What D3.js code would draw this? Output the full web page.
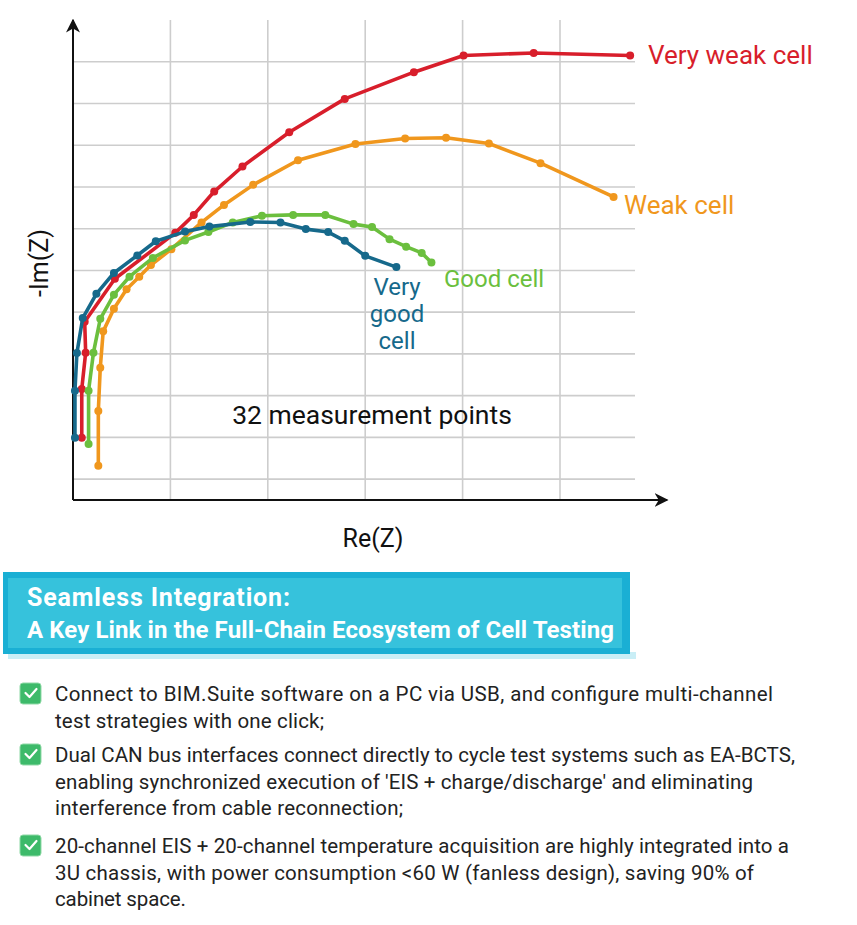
<!DOCTYPE html>
<html>
<head>
<meta charset="utf-8">
<script src="https://cdn.jsdelivr.net/npm/d3@7"></script>
<style>
  body { margin: 0; background: #fff; }
  svg { display: block; }
</style>
</head>
<body>
<script>
// Nyquist curves (Re(Z), -Im(Z) in grid units)
var veryWeakRe = [0.09, 0.09, 0.13, 0.12, 0.43, 1.05, 1.24, 1.45, 1.74, 2.22, 2.79, 3.50, 4.01, 4.73, 5.72];
var veryWeakIm = [1.49, 2.66, 3.53, 4.27, 5.30, 6.40, 6.83, 7.39, 7.99, 8.81, 9.61, 10.25, 10.65, 10.71, 10.65];

var weakRe = [0.26, 0.26, 0.28, 0.31, 0.42, 0.55, 0.68, 0.80, 1.01, 1.32, 1.55, 1.85, 2.31, 2.90, 3.41, 3.83, 4.27, 4.80, 5.55];
var weakIm = [0.82, 2.13, 3.17, 4.04, 4.58, 5.05, 5.35, 5.63, 6.01, 6.65, 7.07, 7.55, 8.14, 8.53, 8.66, 8.68, 8.54, 8.07, 7.26];

var goodRe = [0.16, 0.16, 0.21, 0.28, 0.42, 0.58, 0.82, 1.15, 1.39, 1.64, 1.94, 2.26, 2.59, 2.88, 3.07, 3.25, 3.42, 3.58, 3.68];
var goodIm = [1.34, 2.62, 3.53, 4.34, 4.92, 5.35, 5.80, 6.22, 6.42, 6.65, 6.81, 6.83, 6.83, 6.61, 6.54, 6.25, 6.07, 5.92, 5.69];

var veryGoodRe = [0.02, 0.02, 0.04, 0.10, 0.24, 0.42, 0.66, 0.85, 1.15, 1.40, 1.82, 2.13, 2.39, 2.62, 2.79, 3.00, 3.32];
var veryGoodIm = [1.49, 2.62, 3.52, 4.36, 4.94, 5.44, 5.86, 6.20, 6.43, 6.55, 6.66, 6.65, 6.49, 6.42, 6.21, 5.85, 5.58];

var gridX = [1, 2, 3, 4, 5];
var gridY = [0.5, 1.5, 2.5, 3.5, 4.5, 5.5, 6.5, 7.5, 8.5, 9.5, 10.5];

var bannerLines = ["Seamless Integration:", "A Key Link in the Full-Chain Ecosystem of Cell Testing"];
var bullets = [
  ["Connect to BIM.Suite software on a PC via USB, and configure multi-channel",
   "test strategies with one click;"],
  ["Dual CAN bus interfaces connect directly to cycle test systems such as EA-BCTS,",
   "enabling synchronized execution of 'EIS + charge/discharge' and eliminating",
   "interference from cable reconnection;"],
  ["20-channel EIS + 20-channel temperature acquisition are highly integrated into a",
   "3U chassis, with power consumption <60 W (fanless design), saving 90% of",
   "cabinet space."]
];
// measured line widths in the picture (px)
var bulletWidths = [[718, 269], [740, 698, 348], [734, 699, 131]];

function zip(xs, ys) {
  return xs.map(function(x, i) { return [x, ys[i]]; });
}

var series = [
  { name: "veryWeak", pts: zip(veryWeakRe, veryWeakIm), color: "#d81e2b" },
  { name: "weak", pts: zip(weakRe, weakIm), color: "#f0971d" },
  { name: "good", pts: zip(goodRe, goodIm), color: "#6bbf3e" },
  { name: "veryGood", pts: zip(veryGoodRe, veryGoodIm), color: "#16698b" }
];

var W = 857, H = 925;
var svg = d3.select("body").append("svg")
  .attr("width", W)
  .attr("height", H);

var x = d3.scaleLinear().domain([0, 6]).range([73, 657.4]);
var y = d3.scaleLinear().domain([0, 11.5]).range([500, 20]);

var defs = svg.append("defs");
defs.append("marker")
  .attr("id", "arrow")
  .attr("viewBox", "0 0 10 10")
  .attr("refX", 9).attr("refY", 5)
  .attr("markerWidth", 7).attr("markerHeight", 7)
  .attr("markerUnits", "strokeWidth")
  .attr("orient", "auto")
  .append("path")
  .attr("d", "M0,0 L10,5 L0,10 L3,5 Z")
  .attr("fill", "#111");

// grid
var grid = svg.append("g").attr("stroke", "#cdcdcd").attr("stroke-width", 1.6);
grid.selectAll("line.v")
  .data(gridX)
  .enter()
  .append("line")
  .attr("class", "v")
  .attr("x1", function(d) { return x(d) })
  .attr("x2", function(d) { return x(d) })
  .attr("y1", y(0))
  .attr("y2", y(11.5));
grid.selectAll("line.h")
  .data(gridY)
  .enter()
  .append("line")
  .attr("class", "h")
  .attr("x1", x(0))
  .attr("x2", x(5.77))
  .attr("y1", function(d) { return y(d) })
  .attr("y2", function(d) { return y(d) });

// axes with arrows
svg.append("line")
  .attr("x1", x(0)).attr("y1", y(0))
  .attr("x2", x(0)).attr("y2", y(11.5))
  .attr("stroke", "#111").attr("stroke-width", 2)
  .attr("marker-end", "url(#arrow)");
svg.append("line")
  .attr("x1", x(0)).attr("y1", y(0))
  .attr("x2", x(6.1)).attr("y2", y(0))
  .attr("stroke", "#111").attr("stroke-width", 2)
  .attr("marker-end", "url(#arrow)");

// curves
var line = d3.line()
  .x(function(d) { return x(d[0]) })
  .y(function(d) { return y(d[1]) });

var curves = svg.selectAll("g.curve")
  .data(series)
  .enter()
  .append("g")
  .attr("class", "curve");
curves.append("path")
  .attr("d", function(d) { return line(d.pts) })
  .attr("fill", "none")
  .attr("stroke", function(d) { return d.color })
  .attr("stroke-width", 3.6)
  .attr("stroke-linejoin", "round");
curves.selectAll("circle")
  .data(function(d) { return d.pts.map(function(p) { return { p: p, c: d.color } }) })
  .enter()
  .append("circle")
  .attr("cx", function(d) { return x(d.p[0]) })
  .attr("cy", function(d) { return y(d.p[1]) })
  .attr("r", 4)
  .attr("fill", function(d) { return d.c });

// labels
var lab = svg.append("g").attr("font-family", "Roboto, 'Liberation Sans', sans-serif");
lab.append("text").attr("x", 648).attr("y", 64).attr("font-size", 26)
  .attr("fill", "#d81e2b").text("Very weak cell");
lab.append("text").attr("x", 624).attr("y", 214).attr("font-size", 26)
  .attr("fill", "#f0971d").text("Weak cell");
lab.append("text").attr("x", 444).attr("y", 287).attr("font-size", 24)
  .attr("fill", "#6bbf3e").text("Good cell");
["Very", "good", "cell"].forEach(function(t, i) {
  lab.append("text").attr("x", 397).attr("y", 295 + i * 27).attr("font-size", 24)
    .attr("text-anchor", "middle").attr("fill", "#16698b").text(t);
});
lab.append("text").attr("x", 372).attr("y", 424).attr("font-size", 26.5)
  .attr("text-anchor", "middle").attr("fill", "#111").text("32 measurement points");
lab.append("text").attr("x", 373).attr("y", 547).attr("font-size", 25)
  .attr("text-anchor", "middle").attr("fill", "#111").text("Re(Z)");
lab.append("text")
  .attr("transform", "translate(48,263) rotate(-90)")
  .attr("font-size", 25)
  .attr("text-anchor", "middle").attr("fill", "#111").text("-Im(Z)");

// banner
var banner = svg.append("g");
banner.append("rect").attr("x", 8).attr("y", 652).attr("width", 628).attr("height", 7)
  .attr("fill", "#c9eef6");
banner.append("rect").attr("x", 3).attr("y", 572).attr("width", 627).attr("height", 82)
  .attr("fill", "#1aafd4");
banner.append("rect").attr("x", 8).attr("y", 578).attr("width", 614).attr("height", 70)
  .attr("fill", "#36c2dc");
var bannerSize = [25, 24], bannerLen = [263, 587];
banner.selectAll("text")
  .data(bannerLines)
  .enter()
  .append("text")
  .attr("x", 27)
  .attr("y", function(d, i) { return 606 + i * 32 })
  .attr("font-family", "Roboto, sans-serif")
  .attr("font-weight", "bold")
  .attr("font-size", function(d, i) { return bannerSize[i] })
  .attr("textLength", function(d, i) { return bannerLen[i] })
  .attr("lengthAdjust", "spacing")
  .attr("fill", "#fff")
  .text(function(d) { return d });

// checklist
var rowTop = [701, 762, 853];
var list = svg.append("g").attr("font-family", "Roboto, 'Noto Sans', sans-serif");
bullets.forEach(function(lines, i) {
  var g = list.append("g");
  g.append("rect").attr("x", 20).attr("y", rowTop[i] - 18).attr("width", 21).attr("height", 21)
    .attr("rx", 3).attr("fill", "#3dba6a").attr("stroke", "#8fd9a6").attr("stroke-width", 1);
  g.append("path")
    .attr("d", "M" + 25.5 + "," + (rowTop[i] - 8) + " l4,4 l7,-8")
    .attr("fill", "none").attr("stroke", "#fff").attr("stroke-width", 2.2)
    .attr("stroke-linecap", "round").attr("stroke-linejoin", "round");
  lines.forEach(function(t, j) {
    g.append("text").attr("x", 55).attr("y", rowTop[i] + j * 26.6)
      .attr("font-size", 20.5).attr("fill", "#222")
      .attr("textLength", bulletWidths[i][j])
      .attr("lengthAdjust", "spacing")
      .text(t);
  });
});
</script>
</body>
</html>
